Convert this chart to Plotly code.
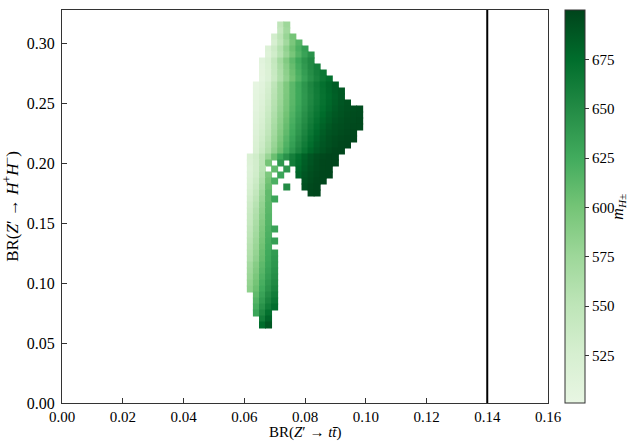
import plotly.graph_objects as go

# x grid columns: BR(Z' -> t tbar)
br_tt_columns = [0.060, 0.062, 0.064, 0.066, 0.068, 0.070, 0.072, 0.074, 0.076, 0.078,
                 0.080, 0.082, 0.084, 0.086, 0.088, 0.090, 0.092, 0.094, 0.096, 0.098, 0.100]

# y rows: BR(Z' -> H+ H-)
br_hh_rows = [0.315, 0.310, 0.305, 0.300, 0.295, 0.290, 0.285, 0.280, 0.275, 0.270,
              0.265, 0.260, 0.255, 0.250, 0.245, 0.240, 0.235, 0.230, 0.225, 0.220,
              0.215, 0.210, 0.205, 0.200, 0.195, 0.190, 0.185, 0.180, 0.175, 0.170,
              0.165, 0.160, 0.155, 0.150, 0.145, 0.140, 0.135, 0.130, 0.125, 0.120,
              0.115, 0.110, 0.105, 0.100, 0.095, 0.090, 0.085, 0.080, 0.075, 0.070, 0.065]

# first occupied column of each row
row_first_col = [6, 6, 5, 5, 4, 4, 3, 3, 3, 3,
                 2, 2, 2, 2, 2, 2, 2, 2, 2, 2,
                 2, 2, 1, 1, 1, 1, 1, 1, 1, 1,
                 1, 1, 1, 1, 1, 1, 1, 1, 1, 1,
                 1, 1, 1, 1, 1, 2, 2, 2, 2, 3, 3]

# charged Higgs mass m_H± (GeV) in each cell, 0 = no points
row_masses = [
    [550, 575],
    [545, 572],
    [530, 552, 578, 600],
    [525, 548, 572, 596, 615],
    [518, 535, 558, 582, 603, 620, 635],
    [515, 532, 555, 578, 598, 616, 632, 645],
    [510, 522, 545, 570, 592, 611, 628, 642, 652],
    [508, 520, 542, 566, 588, 607, 624, 639, 651, 660],
    [507, 518, 540, 563, 585, 604, 621, 636, 649, 659, 667],
    [506, 517, 538, 561, 582, 601, 618, 633, 646, 657, 666, 673],
    [504, 510, 526, 550, 573, 594, 612, 628, 642, 654, 664, 672, 679, 685],
    [505, 512, 528, 552, 574, 594, 612, 627, 641, 653, 663, 671, 678, 684, 688],
    [506, 514, 530, 554, 575, 595, 612, 627, 640, 652, 662, 670, 677, 683, 688],
    [507, 516, 533, 556, 577, 596, 613, 628, 641, 653, 663, 671, 678, 684, 689, 692],
    [508, 518, 536, 558, 579, 598, 615, 630, 643, 655, 665, 673, 680, 686, 690, 693, 694, 695],
    [510, 520, 539, 561, 582, 601, 618, 633, 646, 658, 668, 676, 683, 688, 691, 694, 695, 696],
    [512, 523, 542, 564, 585, 604, 621, 636, 649, 661, 671, 679, 685, 690, 693, 695, 696, 697],
    [514, 526, 545, 567, 588, 607, 624, 639, 652, 664, 674, 682, 688, 692, 694, 696, 697, 697],
    [516, 529, 548, 570, 591, 610, 627, 642, 655, 667, 677, 685, 690, 693, 695, 697, 698],
    [518, 532, 552, 574, 595, 614, 631, 646, 659, 671, 680, 687, 692, 695, 697, 698, 699],
    [520, 535, 556, 578, 599, 618, 635, 650, 663, 674, 683, 689, 693, 696, 698, 699],
    [522, 539, 560, 583, 604, 623, 640, 655, 668, 679, 686, 691, 695, 698, 699],
    [520, 532, 552, 578, 605, 628, 645, 660, 672, 682, 689, 694, 697, 699, 699],
    [518, 530, 552, 600, 0, 640, 0, 662, 674, 684, 690, 695, 698, 699, 699],
    [516, 530, 555, 0, 610, 0, 640, 0, 677, 686, 692, 696, 698, 699],
    [517, 532, 558, 595, 0, 630, 0, 0, 680, 689, 694, 697, 699, 699],
    [520, 536, 563, 600, 620, 0, 0, 0, 0, 691, 695, 698, 699],
    [523, 540, 568, 605, 0, 0, 650, 0, 0, 693, 697, 699],
    [527, 546, 573, 610, 0, 0, 0, 0, 0, 0, 697, 699],
    [531, 551, 578, 610, 630],
    [535, 555, 582, 612],
    [538, 559, 585, 613],
    [541, 562, 588, 615],
    [544, 565, 591, 616],
    [548, 568, 594, 618, 632],
    [551, 571, 596, 620],
    [554, 574, 599, 622, 635],
    [557, 577, 602, 624],
    [560, 580, 605, 626, 638],
    [563, 583, 607, 628, 640],
    [570, 589, 611, 630, 642],
    [573, 592, 614, 633, 645],
    [577, 596, 618, 636, 648],
    [581, 600, 622, 640, 652],
    [585, 604, 626, 644, 656],
    [610, 632, 650, 662],
    [616, 638, 656, 668],
    [622, 645, 663, 674],
    [630, 653, 672],
    [662, 680],
    [675, 688],
]

colorbar_ticks = [525, 550, 575, 600, 625, 650, 675]
x_ticks = [0.00, 0.02, 0.04, 0.06, 0.08, 0.10, 0.12, 0.14, 0.16]
y_ticks = [0.00, 0.05, 0.10, 0.15, 0.20, 0.25, 0.30]
br_tt_limit = 0.14
mass_range = [501, 700]

xs, ys, ms = [], [], []
for yv, c0, masses in zip(br_hh_rows, row_first_col, row_masses):
    for k, m in enumerate(masses):
        if m:
            xs.append(br_tt_columns[c0 + k])
            ys.append(yv)
            ms.append(m)

greens = [[0.0, 'rgb(232,246,227)'], [0.125, 'rgb(214,239,208)'], [0.25, 'rgb(190,229,184)'],
          [0.375, 'rgb(157,215,153)'], [0.5, 'rgb(116,196,118)'], [0.625, 'rgb(65,171,93)'],
          [0.75, 'rgb(35,139,69)'], [0.875, 'rgb(0,109,44)'], [1.0, 'rgb(0,68,27)']]

FONT = "Liberation Serif"

fig = go.Figure()
fig.add_trace(go.Scatter(
    x=xs, y=ys, mode="markers", hoverinfo="skip",
    marker=dict(symbol="square", size=7, color=ms, colorscale=greens,
                cmin=mass_range[0], cmax=mass_range[1], line=dict(width=0),
                showscale=True,
                colorbar=dict(x=1.035, xanchor="left", y=0.5, yanchor="middle",
                              xpad=0, ypad=0,
                              len=1, lenmode="fraction", thickness=20,
                              outlinewidth=1, outlinecolor="#333",
                              ticks="outside", ticklen=4, tickcolor="#333",
                              tickvals=colorbar_ticks,
                              tickfont=dict(family=FONT, size=15, color="black"))),
))

fig.add_shape(type="line", xref="x", yref="paper", x0=br_tt_limit, x1=br_tt_limit,
              y0=0, y1=1, line=dict(color="black", width=2))

fig.add_annotation(xref="paper", yref="paper", x=1.168, xanchor="right", y=0.5,
                   showarrow=False, textangle=-90,
                   text="<i>m</i><sub><i>H</i>±</sub>",
                   font=dict(family=FONT, size=16, color="black"))

fig.add_annotation(xref="paper", yref="paper", x=0.5, y=-0.101, yanchor="bottom",
                   showarrow=False, text="BR(<i>Z</i>′ → <i>t</i><i>t̄</i>)",
                   font=dict(family=FONT, size=15, color="black"))

axis_common = dict(showgrid=False, zeroline=False, showline=True, linecolor="#333",
                   linewidth=1, mirror=True, ticks="inside", ticklen=5, tickcolor="#333",
                   tickformat=".2f")

fig.update_layout(
    width=629, height=444,
    margin=dict(l=62, r=81, t=10, b=41, autoexpand=False),
    paper_bgcolor="white", plot_bgcolor="white",
    showlegend=False,
    xaxis=dict(range=[0, 0.16], tickvals=x_ticks,
               tickfont=dict(family=FONT, size=15, color="black"), **axis_common),
    yaxis=dict(range=[0, 0.3275], tickvals=y_ticks, ticklabelstandoff=3,
               tickfont=dict(family=FONT, size=16, color="black"),
               title=dict(text="BR(<i>Z</i>′ → <i>H</i><sup>+</sup><i>H</i><sup>−</sup>)", standoff=4,
                          font=dict(family=FONT, size=17, color="black")),
               **axis_common),
)

fig.write_html("out.html")
